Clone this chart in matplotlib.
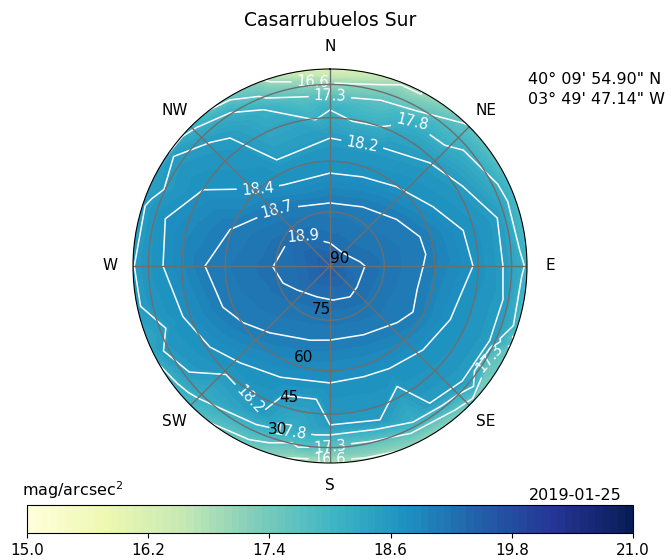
import numpy as np
import matplotlib
matplotlib.use("Agg")
import matplotlib.pyplot as plt
import matplotlib.tri as mtri
from matplotlib.patches import Circle
from matplotlib.colors import BoundaryNorm
from matplotlib.cm import ScalarMappable

site = "Casarrubuelos Sur"
lat_txt = "40° 09' 54.90\" N"
lon_txt = "03° 49' 47.14\" W"
date_txt = "2019-01-25"

# zenith reading, mag/arcsec^2
zenith_mag = 19.15

# isophotes: azimuth (deg, clockwise from N) and altitude (deg) of points on each line
iso_189_az = [269, 298, 318, 0, 45, 82, 90, 114, 128, 147, 175, 203, 234, 250]
iso_189_alt = [74.2, 76.5, 78.9, 83.7, 85.0, 81.7, 80.4, 81.9, 80.6, 79.9, 80.6, 80.8, 78.8, 76.2]

iso_187_az = [270, 290, 317, 0, 29, 55, 72, 83, 91, 105, 119, 130, 154, 180, 195, 222, 237, 249]
iso_187_alt = [53.4, 59.5, 68.2, 72.5, 71.2, 67.2, 63.2, 62.6, 63.7, 64.5, 63.1, 65.2, 68.6, 69.3,
               68.5, 64.6, 60.3, 56.8]

iso_184_az = [270, 286, 301, 317, 330, 0, 20, 40, 60, 75, 90, 100, 114, 132, 150, 163, 180, 204,
              223, 236, 251]
iso_184_alt = [37.2, 35.2, 45.1, 59.8, 63.5, 63.7, 63.1, 60.4, 55.5, 48.9, 47.0, 49.9, 51.1, 53.3,
               55.6, 56.5, 56.1, 54.5, 50.9, 46.3, 42.1]

iso_182_az = [0, 24, 44, 59, 74, 90, 101, 115, 131, 144, 162, 180, 205, 233, 243, 258, 270, 288,
              305, 316, 322]
iso_182_alt = [52.4, 51.9, 46.8, 42.4, 33.9, 34.4, 32.8, 32.8, 33.3, 36.0, 39.5, 40.7, 39.6, 32.8,
               26.9, 22.5, 21.0, 22.0, 24.4, 34.9, 39.2]

iso_178_az = [316, 327, 337, 0, 30, 49, 64, 90, 108, 130, 152, 180, 194, 225]
iso_178_alt = [23.4, 29.3, 35.9, 41.9, 37.8, 32.6, 27.1, 22.0, 23.1, 26.7, 32.5, 36.3, 35.4, 27.0]

iso_173_az = [329, 349, 0, 17, 43, 111, 120, 139, 180, 190, 205]
iso_173_alt = [22.4, 34.8, 35.8, 34.2, 21.3, 20.8, 28.3, 24.5, 30.3, 28.6, 24.0]

iso_166_az = [342, 350, 0, 15, 28, 170, 180, 190]
iso_166_alt = [22.5, 26.9, 29.2, 26.4, 22.0, 21.5, 22.3, 21.5]

# readings along the 20 deg rim
rim_az = [0, 22.5, 45, 67.5, 90, 112.5, 135, 157.5, 180, 202.5, 225, 247.5, 270, 292.5, 315, 337.5]
rim_mag = [15.5, 16.4, 17.25, 17.5, 17.6, 17.25, 16.9, 16.5, 16.2, 16.9, 17.5, 17.95, 18.15, 18.1,
           17.55, 16.7]

line_levels = [16.6, 17.3, 17.8, 18.2, 18.4, 18.7, 18.9]
ring_alts = [90, 75, 60, 45, 30]
cbar_ticks = [15.0, 16.2, 17.4, 18.6, 19.8, 21.0]

# where the contour values are written (az, alt)
label_spots = [(354.7, 28.2), (0, 35.8), (29.7, 37.8), (14.7, 51.6), (316.9, 59.8), (317, 68.2),
               (318, 78.9), (211.2, 40.2), (193.5, 35.4), (180, 30.8), (180, 22.9), (119.9, 28.3)]

alt_min = 20
r_max = np.cos(np.radians(alt_min))


def to_xy(az, alt, push=1.0):
    az = np.radians(np.asarray(az, dtype=float))
    r = np.cos(np.radians(np.asarray(alt, dtype=float))) * push
    return r * np.sin(az), r * np.cos(az)


isos = [(iso_189_az, iso_189_alt, 18.9), (iso_187_az, iso_187_alt, 18.7),
        (iso_184_az, iso_184_alt, 18.4), (iso_182_az, iso_182_alt, 18.2),
        (iso_178_az, iso_178_alt, 17.8), (iso_173_az, iso_173_alt, 17.3),
        (iso_166_az, iso_166_alt, 16.6)]

xs, ys, zs = [0.0], [0.0], [zenith_mag]
for az, alt, level in isos:
    x, y = to_xy(az, alt)
    xs += list(x)
    ys += list(y)
    zs += [level] * len(az)
# rim points sit just outside the circle so the fill reaches the spine
x, y = to_xy(rim_az, np.full(len(rim_az), alt_min), push=1 / np.cos(np.radians(11.25)))
xs += list(x)
ys += list(y)
zs += rim_mag
tri = mtri.Triangulation(np.array(xs), np.array(ys))
zs = np.array(zs)

fig = plt.figure(figsize=(6.71, 5.6), dpi=100)
rect = [133 / 671, 97 / 560, 394 / 671, 394 / 560]

# filled map on a plain axes underneath the polar frame
axc = fig.add_axes(rect)
axc.set_xlim(-r_max, r_max)
axc.set_ylim(-r_max, r_max)
axc.axis("off")
disk = Circle((0, 0), r_max, transform=axc.transData)
cf = axc.tricontourf(tri, zs, levels=np.linspace(14.65, 20.65, 81), cmap="YlGnBu")
cf.set_clip_path(disk)
cs = axc.tricontour(tri, zs, levels=line_levels, colors="white", linewidths=1.1)
cs.set_clip_path(disk)
lx, ly = to_xy([p[0] for p in label_spots], [p[1] for p in label_spots])
axc.clabel(cs, fmt="%.1f", fontsize=10.5, inline=True, manual=list(zip(lx, ly)))

ax = fig.add_axes(rect, projection="polar")
ax.set_facecolor("none")
ax.set_theta_zero_location("N")
ax.set_theta_direction(-1)
ax.set_rlim(0, r_max)
ax.set_rticks(np.cos(np.radians(ring_alts)))
ax.set_yticklabels([str(a) for a in ring_alts], fontsize=11)
ax.set_rlabel_position(200)
ax.set_xticks(np.radians(np.arange(0, 360, 45)))
ax.set_xticklabels(["N", "NE", "E", "SE", "S", "SW", "W", "NW"], fontsize=11)
ax.tick_params(axis="x", pad=6)
ax.grid(True, color="#6e6e6e", linewidth=1.0)

fig.text(330 / 671, 1 - 20 / 560, site, ha="center", va="center", fontsize=13.5)
fig.text(528 / 671, 1 - 80 / 560, lat_txt, ha="left", va="center", fontsize=11.5)
fig.text(528 / 671, 1 - 100 / 560, lon_txt, ha="left", va="center", fontsize=11.5)

# stepped colour scale 15-21
bar_levels = np.linspace(15, 21, 81)
sm = ScalarMappable(norm=BoundaryNorm(bar_levels, 256), cmap="YlGnBu")
cax = fig.add_axes([27 / 671, 27 / 560, 606 / 671, 28 / 560])
cb = fig.colorbar(sm, cax=cax, orientation="horizontal", ticks=cbar_ticks, format="%.1f")
cb.minorticks_off()
cb.ax.tick_params(labelsize=11)
fig.text(22 / 671, 1 - 490 / 560, "mag/arcsec$^2$", ha="left", va="center", fontsize=11.5)
fig.text(622 / 671, 1 - 495 / 560, date_txt, ha="right", va="center", fontsize=11.5)

fig.savefig("out.png", dpi=100)
